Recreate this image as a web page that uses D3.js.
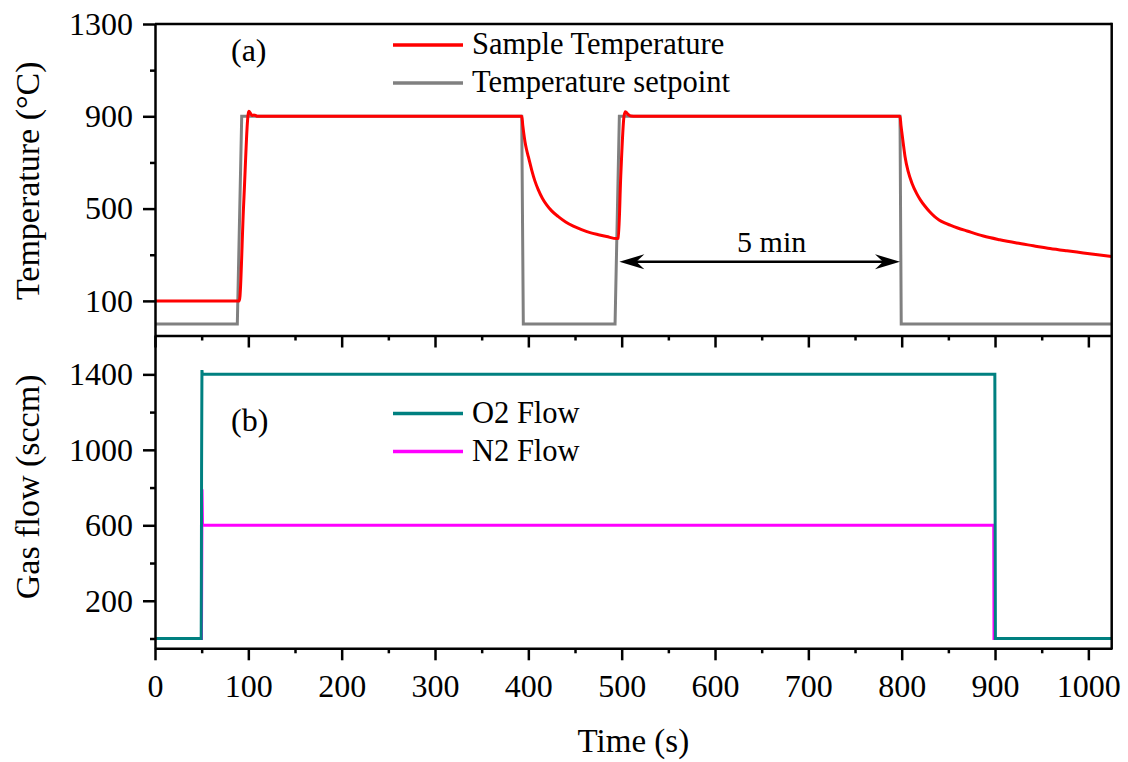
<!DOCTYPE html>
<html>
<head>
<meta charset="utf-8">
<script src="https://cdn.jsdelivr.net/npm/d3@7"></script>
<style>
  html, body { margin: 0; padding: 0; background: #fff; }
  svg { display: block; }
  text { font-family: "Liberation Serif", "Times New Roman", serif; fill: #000; }
</style>
</head>
<body>
<svg id="chart" width="1128" height="762"></svg>
<script>
// ---- data ----
// Sample temperature (°C) vs time (s)
const sampleTime = [0, 90.3, 95, 100.5, 102.5, 104, 106, 110,
  393, 394, 395, 396.4, 398, 400, 403.6, 407, 410.7, 415, 419.6, 425, 432.1, 440, 448.2, 457, 466.1, 475, 483.9, 494.7,
  496.4, 499, 502.5, 504, 506, 508, 510, 515,
  798.2, 799.2, 800.2, 801.6, 803.6, 807, 811, 816.1, 820, 825, 830, 835, 840, 846, 852, 860, 870, 887.5, 905, 923.2, 941, 958.9, 977, 994.6, 1010, 1025];
const sampleTemp = [100, 100, 520, 922, 912, 903, 906, 900,
  900, 862, 829, 790, 757, 725, 667, 620, 581, 545, 516, 490, 465, 442, 424, 409, 396, 387, 379, 370,
  372, 640, 900, 920, 912, 905, 901, 900,
  900, 862, 829, 785, 725, 660, 610, 565, 538, 510, 486, 466, 451, 438, 428, 416, 403, 381, 365, 351, 339, 327, 317, 308, 300, 292];

// Temperature setpoint (°C) vs time (s)
const setpointTime = [0, 88.2, 92.9, 392.9, 394.6, 492.9, 497.5, 798.2, 799.5, 1025];
const setpointTemp = [0, 0, 900, 900, 0, 0, 900, 900, 0, 0];

// Gas flows (sccm) vs time (s)
const o2Time = [0, 49.5, 49.7, 49.9, 50.3, 50.7, 51.8, 899.8, 900.4, 1025];
const o2Flow = [0, 0, 370, 900, 1423, 1400, 1400, 1400, 0, 0];
const n2Time = [0, 49.8, 50.4, 50.9, 898.6, 898.9, 1025];
const n2Flow = [0, 0, 791, 600, 600, 0, 0];

// Axis ticks
const timeTicks = [0, 100, 200, 300, 400, 500, 600, 700, 800, 900, 1000];
const timeMinor = [50, 150, 250, 350, 450, 550, 650, 750, 850, 950];
const tempTicks = [100, 500, 900, 1300];
const tempMinor = [300, 700, 1100];
const flowTicks = [200, 600, 1000, 1400];
const flowMinor = [0, 400, 800, 1200];

// Annotation: setpoint hold duration
const holdStart = 497.5, holdEnd = 798.2, holdLevel = 270, holdLabel = "5 min";

// ---- layout ----
const svg = d3.select("#chart");
const L = 155, R = 1111.7, T1 = 24, B1 = 335.5, B2 = 648.3;
const TICK_FONT = 32, TITLE_FONT = 34, LEGEND_FONT = 30.5;

const x = d3.scaleLinear().domain([0, 1025]).range([L, R]);
const yT = d3.scaleLinear().domain([-50, 1300]).range([B1, T1]);
const yF = d3.scaleLinear().domain([-52, 1606]).range([B2, B1]);

const defs = svg.append("defs");
defs.append("clipPath").attr("id", "clipTop")
  .append("rect").attr("x", L).attr("y", T1).attr("width", R - L).attr("height", B1 - T1);
defs.append("clipPath").attr("id", "clipBot")
  .append("rect").attr("x", L).attr("y", B1).attr("width", R - L).attr("height", B2 - B1);

const zip = (a, b) => a.map((v, i) => [v, b[i]]);

// ---- series ----
const lineT = d3.line().x(d => x(d[0])).y(d => yT(d[1]));
const smoothT = d3.line().x(d => x(d[0])).y(d => yT(d[1])).curve(d3.curveMonotoneX);
const lineF = d3.line().x(d => x(d[0])).y(d => yF(d[1]));

const gTop = svg.append("g").attr("clip-path", "url(#clipTop)");
gTop.append("path").datum(zip(setpointTime, setpointTemp))
  .attr("d", lineT).attr("fill", "none").attr("stroke", "#808080").attr("stroke-width", 3);
gTop.append("path").datum(zip(sampleTime, sampleTemp))
  .attr("d", smoothT).attr("fill", "none").attr("stroke", "#ff0000").attr("stroke-width", 3)
  .attr("stroke-linejoin", "round");

const gBot = svg.append("g").attr("clip-path", "url(#clipBot)");
gBot.append("path").datum(zip(n2Time, n2Flow))
  .attr("d", lineF).attr("fill", "none").attr("stroke", "#ff00ff").attr("stroke-width", 3);
gBot.append("path").datum(zip(o2Time, o2Flow))
  .attr("d", lineF).attr("fill", "none").attr("stroke", "#008080").attr("stroke-width", 3);

// ---- axes ----
const AX_W = 2.5;
const fmt = d3.format("d");
function styleAxis(g) {
  g.selectAll("path.domain").attr("stroke", "#000").attr("stroke-width", AX_W);
  g.selectAll("line").attr("stroke", "#000").attr("stroke-width", AX_W);
  g.selectAll("text").attr("font-size", TICK_FONT).style("font-family", "Liberation Serif");
}

// temperature axis
svg.append("g").attr("transform", `translate(${L},0)`)
  .call(d3.axisLeft(yT).tickValues(tempTicks).tickFormat(fmt).tickSize(12).tickSizeOuter(0).tickPadding(10))
  .call(styleAxis);
svg.append("g").attr("transform", `translate(${L},0)`)
  .call(d3.axisLeft(yT).tickValues(tempMinor).tickSize(5).tickSizeOuter(0).tickFormat(""))
  .call(styleAxis).call(g => g.select("path.domain").remove());

// flow axis
svg.append("g").attr("transform", `translate(${L},0)`)
  .call(d3.axisLeft(yF).tickValues(flowTicks).tickFormat(fmt).tickSize(12).tickSizeOuter(0).tickPadding(10))
  .call(styleAxis);
svg.append("g").attr("transform", `translate(${L},0)`)
  .call(d3.axisLeft(yF).tickValues(flowMinor).tickSize(5).tickSizeOuter(0).tickFormat(""))
  .call(styleAxis).call(g => g.select("path.domain").remove());

// time axis of upper panel (no labels)
svg.append("g").attr("transform", `translate(0,${B1})`)
  .call(d3.axisBottom(x).tickValues(timeTicks).tickSize(12).tickSizeOuter(0).tickFormat(""))
  .call(styleAxis);
svg.append("g").attr("transform", `translate(0,${B1})`)
  .call(d3.axisBottom(x).tickValues(timeMinor).tickSize(5).tickSizeOuter(0).tickFormat(""))
  .call(styleAxis).call(g => g.select("path.domain").remove());

// time axis of lower panel
svg.append("g").attr("transform", `translate(0,${B2})`)
  .call(d3.axisBottom(x).tickValues(timeTicks).tickFormat(fmt).tickSize(12).tickSizeOuter(0).tickPadding(14))
  .call(styleAxis);
svg.append("g").attr("transform", `translate(0,${B2})`)
  .call(d3.axisBottom(x).tickValues(timeMinor).tickSize(5).tickSizeOuter(0).tickFormat(""))
  .call(styleAxis).call(g => g.select("path.domain").remove());

// frame: top and right edges
svg.append("line").attr("x1", L).attr("x2", R).attr("y1", T1).attr("y2", T1)
  .attr("stroke", "#000").attr("stroke-width", AX_W);
svg.append("line").attr("x1", R).attr("x2", R).attr("y1", T1 - AX_W / 2).attr("y2", B2 + AX_W / 2)
  .attr("stroke", "#000").attr("stroke-width", AX_W);

// ---- axis titles ----
svg.append("text").attr("transform", `translate(39,${(T1 + B1) / 2 + 1}) rotate(-90)`)
  .attr("text-anchor", "middle").attr("font-size", TITLE_FONT).text("Temperature (°C)");
svg.append("text").attr("transform", `translate(39,${(B1 + B2) / 2 - 5}) rotate(-90)`)
  .attr("text-anchor", "middle").attr("font-size", TITLE_FONT).text("Gas flow (sccm)");
svg.append("text").attr("x", (L + R) / 2).attr("y", 752)
  .attr("text-anchor", "middle").attr("font-size", 33).text("Time (s)");

// ---- panel labels ----
svg.append("text").attr("x", 231).attr("y", 61).attr("font-size", 32).text("(a)");
svg.append("text").attr("x", 231).attr("y", 431).attr("font-size", 32).text("(b)");

// ---- legends ----
function legend(items, x0, y0, dy) {
  items.forEach((it, i) => {
    const yy = y0 + i * dy;
    svg.append("line").attr("x1", x0).attr("x2", x0 + 70).attr("y1", yy).attr("y2", yy)
      .attr("stroke", it.color).attr("stroke-width", 3.5);
    svg.append("text").attr("x", x0 + 79).attr("y", yy + 9).attr("font-size", LEGEND_FONT).text(it.name);
  });
}
legend([{ name: "Sample Temperature", color: "#ff0000" },
        { name: "Temperature setpoint", color: "#808080" }], 393, 45, 38);
legend([{ name: "O2 Flow", color: "#008080" },
        { name: "N2 Flow", color: "#ff00ff" }], 393, 413.5, 38);

// ---- hold-duration arrow ----
const ay = yT(holdLevel), ax1 = x(holdStart), ax2 = x(holdEnd);
svg.append("line").attr("x1", ax1 + 8).attr("x2", ax2 - 8).attr("y1", ay).attr("y2", ay)
  .attr("stroke", "#000").attr("stroke-width", 2.5);
function head(tx, dir) {
  const p = [[tx, ay], [tx - dir * 25, ay - 7.5], [tx - dir * 17, ay], [tx - dir * 25, ay + 7.5]];
  svg.append("path").attr("d", "M" + p.map(q => q.join(",")).join("L") + "Z").attr("fill", "#000");
}
head(ax1, -1);
head(ax2, 1);
svg.append("text").attr("x", (ax1 + ax2) / 2 + 12).attr("y", ay - 10)
  .attr("text-anchor", "middle").attr("font-size", 30).text(holdLabel);
</script>
</body>
</html>
